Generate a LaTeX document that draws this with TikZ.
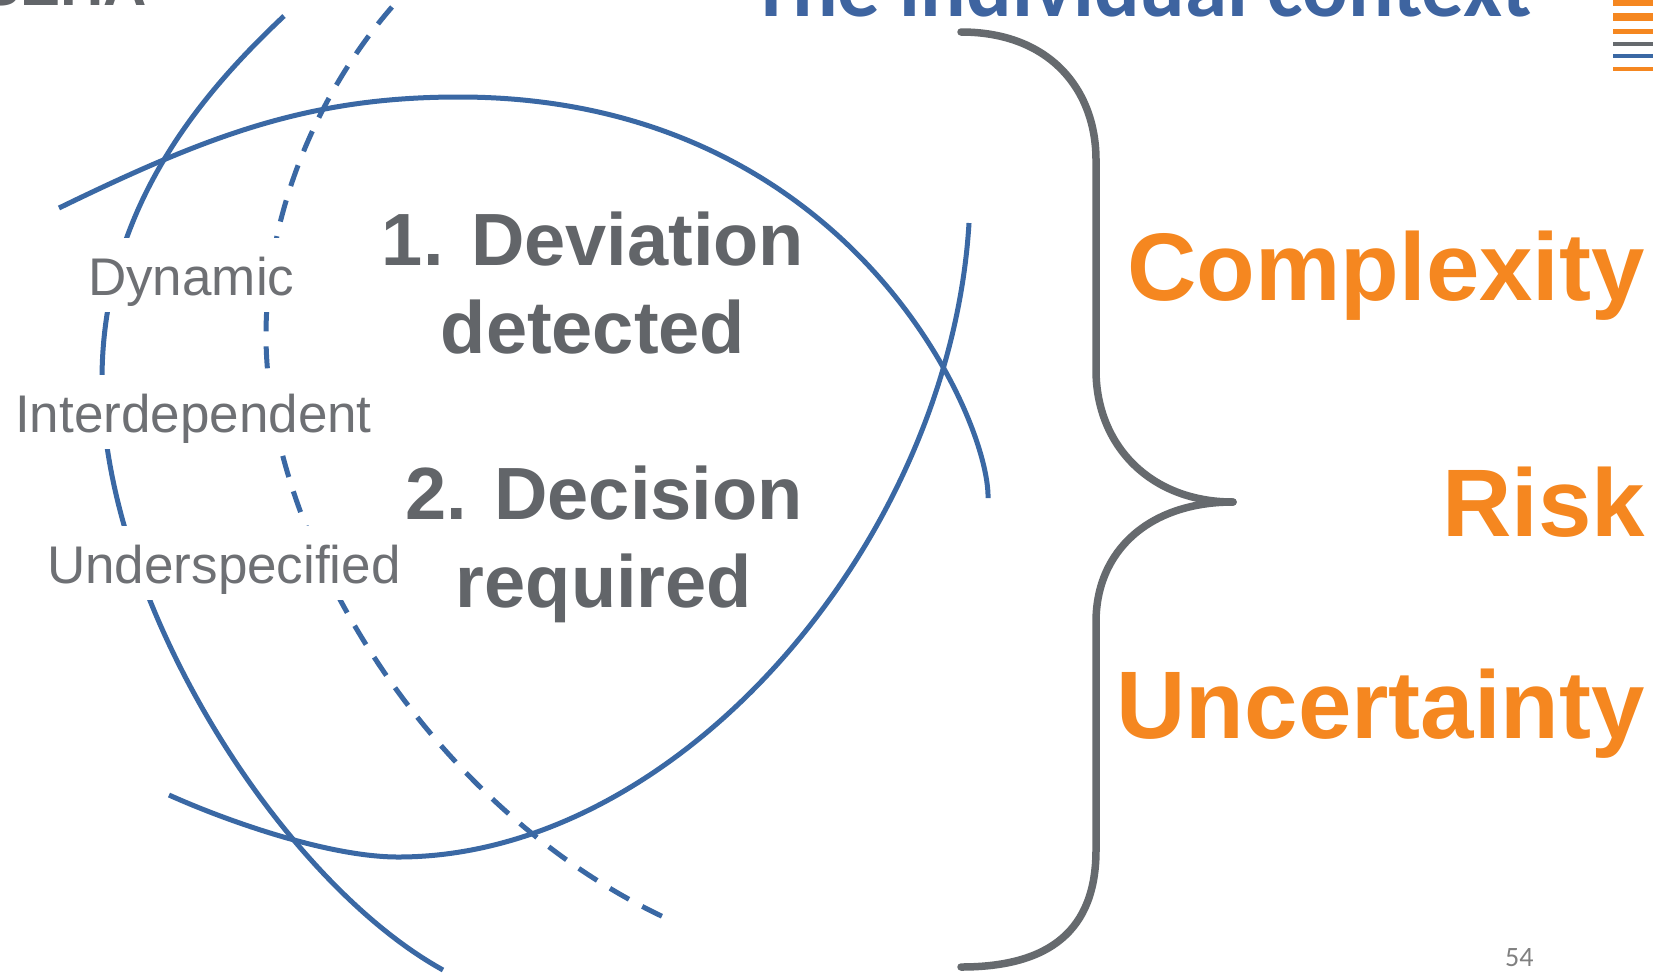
\documentclass[tikz,border=0pt]{standalone}
\usepackage{fontspec}
\setmainfont{Liberation Sans}
\newfontfamily\calib{Carlito}
\usetikzlibrary{positioning}

\definecolor{lineblue}{RGB}{58,104,164}
\definecolor{bracegray}{RGB}{102,106,110}
\definecolor{textgray}{RGB}{98,101,105}
\definecolor{softgray}{RGB}{110,112,116}
\definecolor{riskorange}{RGB}{245,135,32}
\definecolor{titleblue}{RGB}{62,100,160}

\begin{document}
\begin{tikzpicture}[x=1pt,y=-1pt,
  blueline/.style={draw=lineblue,line width=5pt},
  bluedash/.style={blueline,dash pattern=on 22pt off 15pt},
  bracestroke/.style={draw=bracegray,line width=7.5pt,line cap=round},
  facet/.style={fill=white,text=softgray,anchor=base west,inner xsep=6pt,inner ysep=0pt,
    text height=57pt,text depth=17pt,font=\fontsize{53}{60}\selectfont},
  stage/.style={text=textgray,align=center,inner sep=0pt,font=\bfseries\fontsize{74}{88}\selectfont},
  factor/.style={text=riskorange,anchor=base east,inner sep=0pt,font=\bfseries\fontsize{96}{110}\selectfont}]

  \useasboundingbox (0,0) rectangle (1653,975);
  \fill[white] (0,0) rectangle (1653,975);
  \clip (0,0) rectangle (1653,975);

  % header bits, cut by the page edge
  \node[anchor=base east,inner sep=0pt,text=textgray,font=\bfseries\fontsize{60}{66}\selectfont] (seha) at (147,5) {SEHA};
  \node[anchor=base west,inner sep=0pt,text=titleblue,font=\calib\bfseries\fontsize{85}{92}\selectfont] (title) at (750,16) {The individual context};
  \fill[riskorange] (1613,-2) rectangle (1653,6);
  \fill[riskorange] (1613,13) rectangle (1653,21);
  \fill[riskorange] (1613,29) rectangle (1653,34);
  \fill[bracegray]  (1613,42) rectangle (1653,46);
  \fill[lineblue]   (1613,54) rectangle (1653,58);
  \fill[riskorange] (1613,67) rectangle (1653,71);

  % the crossing arcs
  \draw[blueline] (59,208) .. controls (209,135) and (309,97) .. (459,97)
    .. controls (850,97) and (990,420) .. (988,498);
  \draw[blueline] (969,223) .. controls (950,540) and (680,857) .. (398,857)
    .. controls (330,857) and (229,822) .. (169,795);
  \draw[blueline] (284,16) .. controls (200,95) and (102,210) .. (102,380)
    .. controls (102,600) and (280,880) .. (443,970);
  \draw[bluedash] (392,7) .. controls (320,90) and (266,210) .. (266,335)
    .. controls (266,540) and (430,810) .. (670,920);

  \node[facet] (dyn)   at (82,295)  {Dynamic};
  \node[facet] (inter) at (9,432)   {Interdependent};
  \node[facet] (under) at (41,583)  {Underspecified};

  \node[stage] (dev) at (593,283) {1. Deviation\\detected};
  \node[stage] (dec) at (604,544) {2. Decision\\required};

  % brace
  \draw[bracestroke] (961,32) .. controls (1050,32) and (1096,90) .. (1096,160) -- (1096,370)
    .. controls (1096,445) and (1150,502) .. (1233,502);
  \draw[bracestroke] (1233,502) .. controls (1150,502) and (1096,550) .. (1096,622) -- (1096,850)
    .. controls (1096,930) and (1050,967) .. (961,967);

  \node[factor] (cplx) at (1645,300) {Complexity};
  \node[factor] (risk) at (1645,536) {Risk};
  \node[factor] (unc)  at (1645,738) {Uncertainty};

  \node[anchor=base west,inner sep=0pt,text=gray,font=\calib\fontsize{28}{30}\selectfont] (pnum) at (1505,966) {54};
\end{tikzpicture}
\end{document}
